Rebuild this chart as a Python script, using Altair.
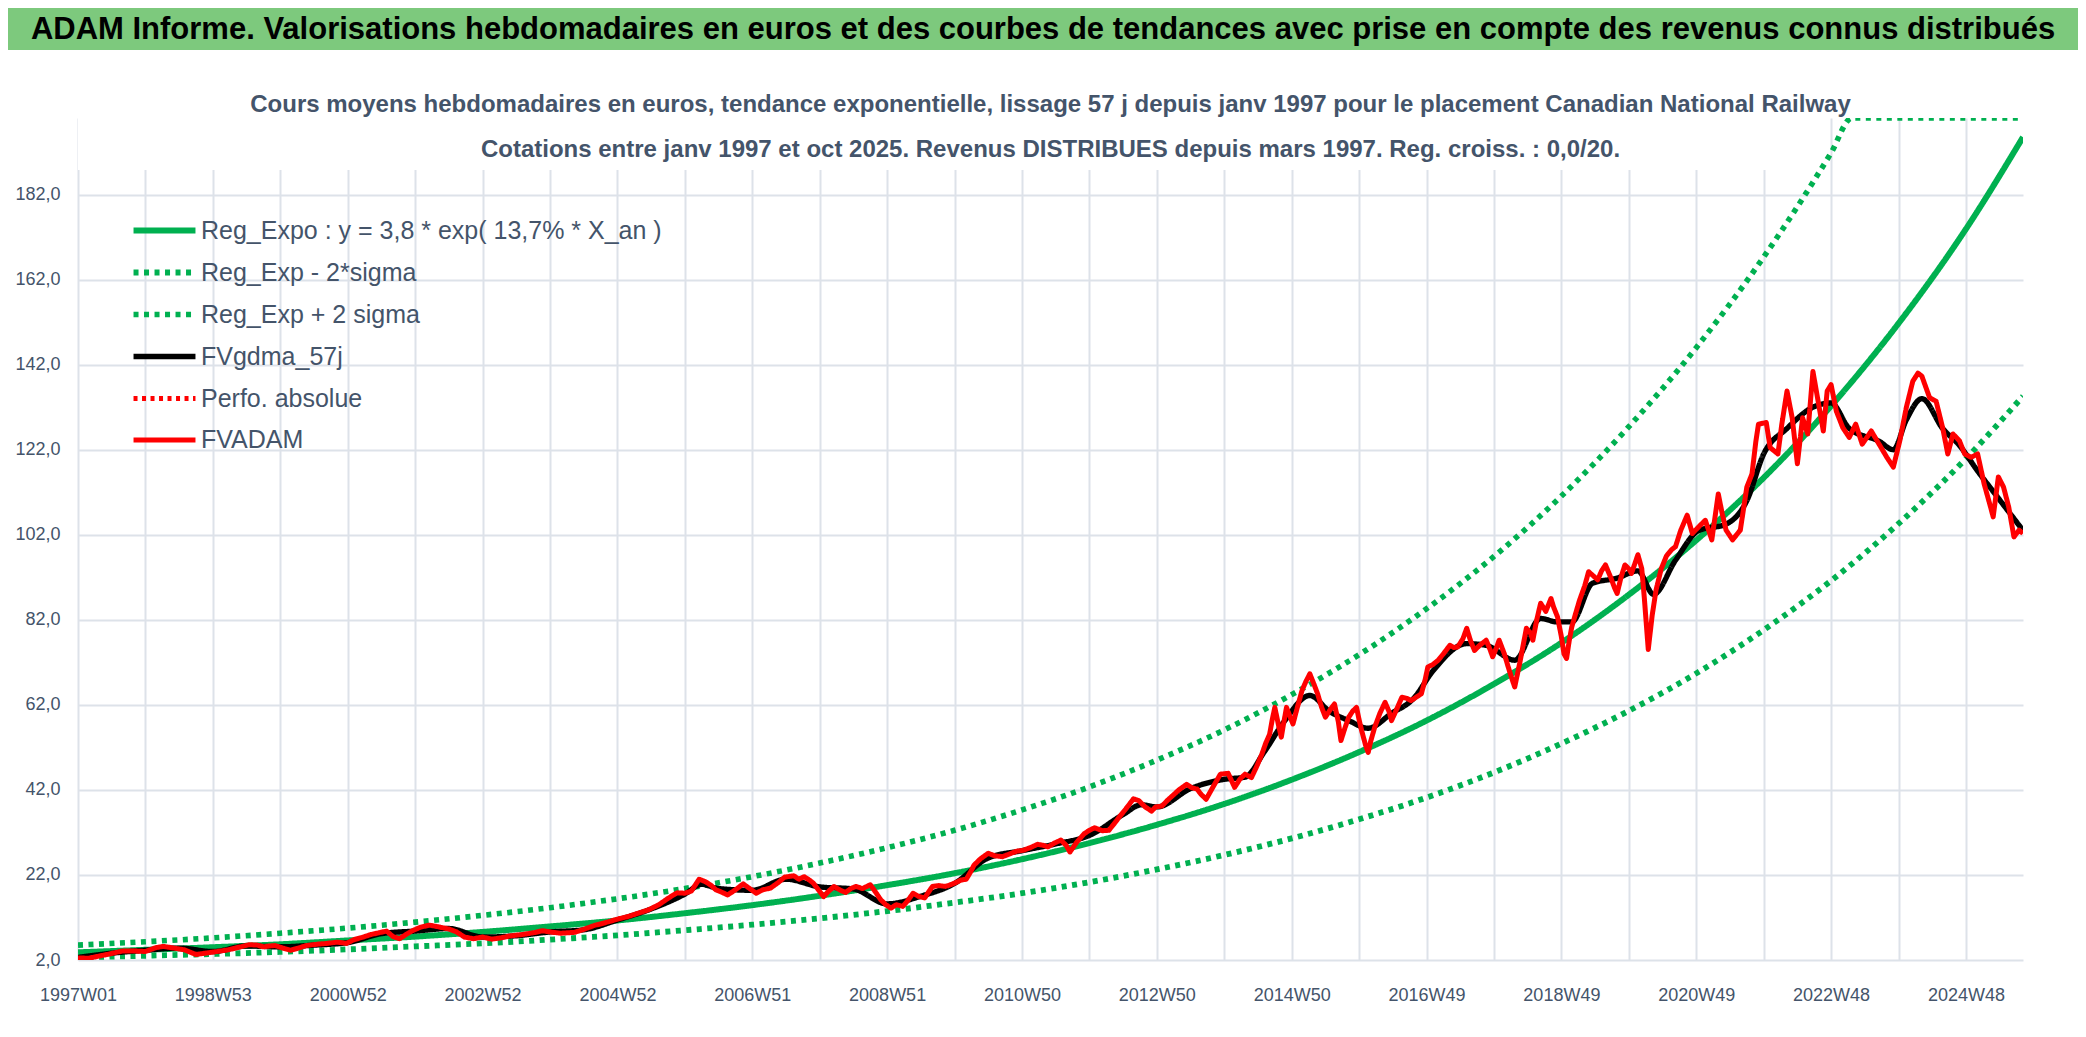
import altair as alt
import pandas as pd

# ---------------- texts ----------------
bar_title = "ADAM Informe. Valorisations hebdomadaires en euros et des courbes de tendances avec prise en compte des revenus connus distribués"
sub_line1 = "Cours moyens hebdomadaires en euros, tendance exponentielle, lissage 57 j depuis janv 1997 pour le placement Canadian National Railway"
sub_line2 = "Cotations entre janv 1997 et oct 2025. Revenus DISTRIBUES depuis mars 1997. Reg. croiss. : 0,0/20."

series_names = [
    "Reg_Expo : y = 3,8 * exp( 13,7% *  X_an )",
    "Reg_Exp - 2*sigma",
    "Reg_Exp + 2 sigma",
    "FVgdma_57j",
    "Perfo. absolue",
    "FVADAM",
]

# x tick labels (one every 104 weeks, gridlines every 52 weeks)
x_tick_labels = ["1997W01", "1998W53", "2000W52", "2002W52", "2004W52", "2006W51",
                 "2008W51", "2010W50", "2012W50", "2014W50", "2016W49", "2018W49",
                 "2020W49", "2022W48", "2024W48"]
y_ticks = [2, 22, 42, 62, 82, 102, 122, 142, 162, 182]

# ---------------- data (week index since 1997W01, value in euros) ----------------
fvadam_points = [
    (0, 2.5), (8, 2.4), (16, 2.9), (24, 3.4), (34, 4.1), (44, 4.1), (52, 4.0), (60, 4.9), (66, 5.2),
    (74, 4.8), (82, 4.4), (91, 3.3), (98, 3.6), (105, 3.9), (116, 4.4), (124, 5.0), (132, 5.6),
    (138, 5.5), (143, 5.1), (148, 5.3), (152, 5.4), (158, 4.8), (164, 4.3), (170, 4.8), (176, 5.4),
    (184, 5.7), (192, 5.9), (200, 6.2), (207, 5.9), (213, 6.8), (219, 7.3), (226, 8.0), (232, 8.4),
    (238, 8.8), (243, 7.5), (248, 7.0), (253, 8.0), (258, 8.9), (264, 9.7), (271, 10.2), (278, 9.8),
    (286, 9.3), (292, 8.6), (298, 7.4), (305, 7.0), (312, 7.4), (319, 6.9), (326, 7.2), (334, 7.7),
    (343, 8.0), (353, 8.5), (358, 8.9), (364, 8.6), (372, 8.3), (383, 8.5), (390, 9.2), (398, 10.1),
    (407, 10.8), (417, 11.7), (424, 12.2), (432, 13.0), (440, 13.8), (448, 15.0), (455, 16.5),
    (462, 17.8), (468, 17.7), (473, 18.2), (479, 21.0), (484, 20.4), (488, 19.6), (492, 18.5),
    (496, 18.0), (501, 17.3), (507, 18.5), (513, 19.9), (518, 18.8), (523, 17.7), (528, 18.5),
    (534, 18.9), (540, 20.2), (545, 21.5), (552, 21.8), (556, 21.0), (560, 21.6), (564, 20.8),
    (567, 20.1), (571, 18.5), (575, 16.9), (579, 18.2), (583, 19.3), (588, 18.4), (592, 17.9),
    (596, 18.8), (600, 19.3), (605, 18.8), (611, 19.7), (615, 18.0), (619, 16.2), (623, 15.0),
    (627, 14.2), (631, 15.0), (636, 14.6), (640, 16.0), (644, 17.7), (648, 17.0), (653, 16.6),
    (656, 18.0), (659, 19.3), (664, 19.5), (669, 19.3), (673, 19.7), (677, 20.2), (681, 20.8),
    (685, 21.0), (688, 22.5), (691, 24.3), (696, 25.8), (702, 27.1), (707, 26.5), (713, 26.3),
    (719, 27.0), (724, 27.6), (729, 27.8), (735, 28.5), (740, 29.2), (744, 29.0), (748, 28.6),
    (753, 29.5), (758, 30.2), (762, 29.0), (765, 27.4), (770, 29.6), (776, 31.7), (780, 32.5),
    (784, 33.1), (790, 32.4), (795, 32.5), (799, 34.0), (803, 35.6), (808, 37.5), (814, 39.9),
    (818, 39.5), (823, 38.0), (828, 37.0), (831, 38.0), (836, 38.2), (840, 39.5), (844, 40.6),
    (849, 42.0), (855, 43.3), (859, 42.5), (863, 42.2), (866, 41.0), (870, 39.8), (875, 42.5),
    (881, 45.7), (887, 45.9), (892, 42.6), (896, 44.5), (900, 45.7), (905, 44.9), (909, 47.5),
    (913, 50.4), (916, 53.0), (919, 55.1), (921, 58.5), (923, 61.4), (926, 57.0), (928, 54.4),
    (930, 58.0), (932, 61.4), (935, 59.0), (937, 57.5), (940, 61.0), (944, 65.4), (947, 67.5),
    (950, 69.3), (953, 67.0), (956, 64.6), (959, 61.5), (962, 59.1), (966, 61.0), (969, 62.2),
    (972, 58.0), (974, 53.6), (977, 56.5), (980, 59.1), (983, 60.5), (986, 61.4), (988, 58.5),
    (990, 55.9), (993, 52.5), (995, 50.8), (997, 53.5), (1000, 56.7), (1004, 60.0), (1008, 62.6),
    (1011, 60.5), (1013, 58.3), (1017, 61.0), (1021, 63.8), (1025, 63.5), (1028, 63.0), (1032, 63.8),
    (1036, 64.6), (1039, 68.0), (1041, 70.9), (1045, 71.5), (1049, 72.5), (1053, 74.0), (1058, 76.0),
    (1061, 75.5), (1064, 75.6), (1068, 77.5), (1071, 80.0), (1074, 77.0), (1077, 74.8), (1081, 76.0),
    (1086, 77.2), (1089, 75.0), (1091, 73.3), (1094, 75.5), (1096, 77.2), (1100, 74.0), (1103, 70.9),
    (1106, 68.0), (1108, 66.2), (1112, 72.0), (1117, 80.0), (1120, 79.0), (1122, 77.2), (1125, 82.0),
    (1128, 85.9), (1132, 84.0), (1136, 87.0), (1138, 85.0), (1141, 82.7), (1144, 78.0), (1146, 74.0),
    (1148, 72.9), (1150, 77.0), (1152, 80.3), (1155, 83.5), (1158, 86.6), (1162, 90.0), (1165, 93.3),
    (1168, 92.5), (1172, 91.4), (1175, 93.5), (1178, 94.9), (1182, 92.0), (1185, 89.5), (1187, 88.2),
    (1190, 92.0), (1193, 94.9), (1196, 94.0), (1198, 92.9), (1201, 95.5), (1203, 97.3), (1206, 94.0),
    (1208, 87.0), (1211, 75.0), (1214, 83.0), (1217, 89.0), (1221, 94.0), (1225, 97.0), (1229, 98.5),
    (1232, 99.2), (1236, 103.0), (1241, 106.6), (1245, 102.3), (1250, 103.9), (1255, 105.4),
    (1260, 100.8), (1265, 111.6), (1268, 107.0), (1271, 103.1), (1276, 100.8), (1282, 103.1),
    (1287, 113.2), (1291, 116.3), (1294, 124.0), (1296, 128.0), (1302, 128.4), (1305, 122.5),
    (1311, 121.0), (1314, 128.0), (1318, 135.8), (1322, 129.5), (1326, 118.7), (1330, 129.5),
    (1334, 125.7), (1338, 140.4), (1342, 133.4), (1346, 126.4), (1349, 135.8), (1352, 137.3),
    (1356, 131.1), (1361, 127.2), (1366, 124.9), (1371, 128.0), (1376, 123.3), (1383, 126.4),
    (1389, 123.3), (1395, 120.2), (1400, 117.9), (1405, 124.1), (1410, 131.9), (1415, 138.1),
    (1419, 140.0), (1422, 139.3), (1428, 134.2), (1433, 133.4), (1438, 127.2), (1442, 121.0),
    (1446, 125.7), (1451, 124.1), (1455, 121.0), (1460, 120.2), (1465, 121.0), (1470, 114.0),
    (1475, 108.5), (1477, 106.2), (1481, 115.6), (1485, 113.2), (1489, 108.5), (1493, 101.5),
    (1497, 103.1), (1500, 102.3),
]

fvgdma_points = [
    (0, 2.6), (26, 3.6), (52, 4.3), (78, 4.8), (104, 4.0), (130, 5.3), (156, 5.1), (182, 5.5),
    (208, 6.1), (234, 8.2), (260, 8.8), (286, 9.4), (312, 7.4), (338, 7.7), (364, 8.6), (390, 9.1),
    (416, 11.4), (442, 14.0), (468, 17.5), (481, 19.8), (494, 18.8), (520, 18.4), (546, 21.0),
    (572, 19.2), (598, 18.7), (624, 15.2), (650, 17.0), (676, 20.0), (702, 26.0), (728, 27.7),
    (754, 29.3), (780, 31.3), (806, 36.2), (820, 38.5), (832, 38.0), (858, 42.3), (884, 44.5),
    (900, 45.0), (915, 51.0), (930, 58.0), (950, 64.2), (965, 60.5), (980, 58.3), (995, 56.5),
    (1013, 60.0), (1030, 63.5), (1045, 70.0), (1071, 76.4), (1086, 76.0), (1108, 72.5), (1128, 82.3),
    (1141, 81.5), (1152, 81.5), (1168, 90.6), (1187, 91.8), (1203, 93.5), (1215, 88.0), (1232, 96.0),
    (1250, 103.0), (1271, 104.5), (1287, 110.0), (1300, 121.0), (1318, 127.0), (1338, 132.0),
    (1352, 133.0), (1366, 127.0), (1389, 124.0), (1400, 122.0), (1410, 129.0), (1422, 134.0),
    (1438, 127.0), (1451, 123.0), (1465, 117.0), (1480, 111.0), (1490, 107.0), (1500, 103.0),
]

trend_weeks = [0, 52, 104, 156, 208, 260, 312, 364, 416, 468, 520, 572, 624, 676, 728, 780, 832,
               884, 936, 988, 1040, 1092, 1144, 1196, 1248, 1300, 1352, 1404, 1456, 1500]
reg_expo = [3.8, 4.4, 5.0, 5.7, 6.6, 7.5, 8.6, 9.9, 11.3, 13.0, 14.9, 17.1, 19.6, 22.4, 25.7, 29.5,
            33.8, 38.7, 44.4, 50.9, 58.3, 66.9, 76.6, 87.9, 100.7, 115.4, 132.3, 151.7, 173.9, 195.5]
reg_minus = [2.6, 3.0, 3.4, 3.9, 4.5, 5.2, 5.9, 6.8, 7.8, 9.0, 10.3, 11.8, 13.5, 15.5, 17.7, 20.3,
             23.3, 26.7, 30.6, 35.1, 40.2, 46.1, 52.9, 60.6, 69.4, 79.6, 91.2, 104.6, 119.9, 134.6]
plus_weeks = [0, 52, 104, 156, 208, 260, 312, 364, 416, 468, 520, 572, 624, 676, 728, 780, 832,
              884, 936, 988, 1040, 1092, 1144, 1196, 1248, 1300, 1352, 1368, 1404, 1456, 1500]
reg_plus = [5.5, 6.3, 7.2, 8.3, 9.5, 10.9, 12.5, 14.3, 16.4, 18.8, 21.6, 24.8, 28.4, 32.5, 37.3,
            42.7, 49.0, 56.1, 64.4, 73.8, 84.6, 96.9, 111.1, 127.4, 146.0, 167.3, 191.8, 200.0,
            200.0, 200.0, 200.0]

# ---------------- styles ----------------
series_colors = ["#00B050", "#00B050", "#00B050", "#000000", "#FF0000", "#FF0000"]
series_dash = [[1, 0], [5, 5.5], [5, 5.5], [1, 0], [4, 4.5], [1, 0]]
series_width = [6, 5, 5, 5, 3, 6]


def frame(weeks, values, name):
    return pd.DataFrame({"week": weeks, "value": values, "series": name})


df_trend = pd.concat([
    frame(trend_weeks, reg_expo, series_names[0]),
    frame(trend_weeks, reg_minus, series_names[1]),
    frame(plus_weeks, reg_plus, series_names[2]),
], ignore_index=True)
df_black = frame([p[0] for p in fvgdma_points], [p[1] for p in fvgdma_points], series_names[3])
df_red = frame([p[0] for p in fvadam_points], [p[1] for p in fvadam_points], series_names[5])

FONT = "Liberation Sans"
SLATE = "#44546A"

label_array = []
for lab in x_tick_labels:
    label_array.append(lab)
    label_array.append("")
label_expr = "[" + ",".join("'" + s + "'" for s in label_array) + "][round(datum.value / 52)]"

x_enc = alt.X(
    "week:Q",
    scale=alt.Scale(domain=[0, 1500], nice=False, zero=False),
    axis=alt.Axis(values=list(range(0, 1457, 52)), labelExpr=label_expr, title=None,
                  labelPadding=26, labelOverlap=False, labelFlush=False),
)
y_enc = alt.Y(
    "value:Q",
    scale=alt.Scale(domain=[2, 200], nice=False, zero=False),
    axis=alt.Axis(values=y_ticks, labelExpr="replace(format(datum.value, '.1f'), '.', ',')",
                  title=None, labelPadding=18, minExtent=70),
)
color_enc = alt.Color(
    "series:N",
    scale=alt.Scale(domain=series_names, range=series_colors),
    legend=alt.Legend(title=None, orient="none", legendX=66, legendY=92,
                      symbolType="M-1.77,0H1.77", symbolSize=1225, labelFontSize=25,
                      labelFont=FONT, labelColor=SLATE, labelOffset=16, rowPadding=8,
                      labelLimit=800),
)
dash_enc = alt.StrokeDash("series:N", scale=alt.Scale(domain=series_names, range=series_dash),
                          legend=alt.Legend(title=None))
width_enc = alt.StrokeWidth("series:N", scale=alt.Scale(domain=series_names, range=series_width),
                            legend=alt.Legend(title=None))

enc = dict(x=x_enc, y=y_enc, color=color_enc, strokeDash=dash_enc, strokeWidth=width_enc)

# decorative elements: green header band, its text, and the white box behind the subtitles
deco_df = pd.DataFrame({"t": [bar_title]})
header_band = alt.Chart(deco_df).mark_rect(color="#7DC97D").encode(
    x=alt.value(-70), x2=alt.value(2000), y=alt.value(-110), y2=alt.value(-68)
)
header_text = alt.Chart(deco_df).mark_text(
    font=FONT, fontSize=31, fontWeight="bold", color="#000000", baseline="middle", align="center"
).encode(text="t:N", x=alt.value(965), y=alt.value(-88))
subtitle_box = alt.Chart(deco_df).mark_rect(color="white").encode(
    x=alt.value(0), x2=alt.value(1752), y=alt.value(0), y2=alt.value(52)
)

trend_layer = alt.Chart(df_trend).mark_line(clip=True, interpolate="monotone").encode(**enc)
black_layer = alt.Chart(df_black).mark_line(clip=True, interpolate="monotone", strokeJoin="round").encode(**enc)
red_layer = alt.Chart(df_red).mark_line(clip=True, strokeJoin="round").encode(**enc)

chart = alt.layer(subtitle_box, trend_layer, black_layer, red_layer, header_band, header_text).properties(
    width=1945,
    height=842,
    padding=0,
    background="white",
    title=alt.TitleParams(text=[sub_line1, sub_line2], font=FONT, fontSize=24, fontWeight="bold",
                          color=SLATE, anchor="middle", frame="group", lineHeight=45, offset=-154),
).configure_axis(
    gridColor="#DDE2E9", gridWidth=2, domain=False, ticks=False, labelColor=SLATE,
    labelFont=FONT, labelFontSize=18,
).configure_view(strokeWidth=0)

chart.save("out.html", embed_options={"renderer": "svg", "actions": False})
